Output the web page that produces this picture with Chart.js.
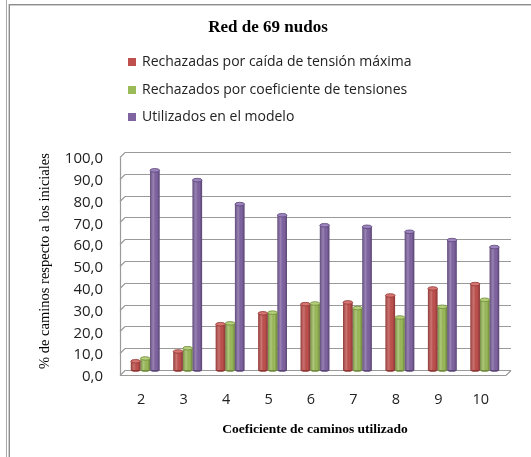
<!DOCTYPE html>
<html>
<head>
<meta charset="utf-8">
<script src="https://cdn.jsdelivr.net/npm/chart.js@4/dist/chart.umd.min.js"></script>
<style>
  html, body { margin: 0; padding: 0; background: #fff; }
  #wrap { position: relative; width: 531px; height: 457px; overflow: hidden; }
  #c { position: absolute; left: 0; top: 0; }
  .frameV1 { position: absolute; left: 6px; top: 0; width: 1px; height: 457px; background: #a8a8a8; }
  .frameV2 { position: absolute; left: 8px; top: 4px; width: 1px; height: 453px; background: #cfcfcf; }
  .frameV3 { position: absolute; left: 9px; top: 4px; width: 1px; height: 453px; background: #8c8c8c; }
  .frameH1 { position: absolute; left: 9px; top: 4px; width: 522px; height: 1px; background: #8c8c8c; }
  .frameH2 { position: absolute; left: 10px; top: 5px; width: 521px; height: 1px; background: #cfcfcf; }
  #title { position: absolute; left: 168px; width: 200px; top: 17px; text-align: center;
           font-family: "Liberation Serif", serif; font-weight: bold; font-size: 17px; color: #000; line-height: 20px; }
  #legend { position: absolute; left: 128px; top: 50px; font-family: "Open Sans", sans-serif; font-size: 14px; color: #222; }
  .li { position: relative; height: 27.5px; line-height: 22px; white-space: nowrap; }
  .sw { display: inline-block; width: 8px; height: 8px; margin-right: 6px; vertical-align: 0px; }
</style>
</head>
<body>
<div id="wrap">
  <canvas id="c" width="531" height="457"></canvas>
  <div class="frameV1"></div><div class="frameV2"></div><div class="frameV3"></div>
  <div class="frameH1"></div><div class="frameH2"></div>
  <div id="title"></div>
  <div id="legend"></div>
</div>
<script>
// ---- data ----
const categories = ['2', '3', '4', '5', '6', '7', '8', '9', '10'];
const seriesNames = [
  'Rechazadas por caída de tensión máxima',
  'Rechazados por coeficiente de tensiones',
  'Utilizados en el modelo'
];
const rechazadasCaida = [4.0, 8.5, 21.0, 26.0, 30.2, 31.0, 34.2, 37.4, 39.4];
const rechazadosCoef  = [5.3, 10.0, 21.4, 26.3, 30.5, 28.4, 24.1, 29.0, 32.2];
const utilizados      = [91.6, 87.1, 76.1, 71.0, 66.4, 65.7, 63.4, 59.6, 56.4];
const yTickValues = [0, 10, 20, 30, 40, 50, 60, 70, 80, 90, 100];
const chartTitle = 'Red de 69 nudos';
const xTitle = 'Coeficiente de caminos utilizado';
const yTitle = '% de caminos respecto a los iniciales';

const colors = ['#C0504D', '#9BBB59', '#8064A2'];
const capColors = ['#D67572', '#B5D07A', '#9C84BE'];
const edgeColors = ['#8E3532', '#6F8A3A', '#5B4577'];

document.getElementById('title').textContent = chartTitle;

// HTML legend built from the series names
const lg = document.getElementById('legend');
seriesNames.forEach((n, i) => {
  const d = document.createElement('div'); d.className = 'li';
  const s = document.createElement('span'); s.className = 'sw'; s.style.background = colors[i];
  d.appendChild(s); d.appendChild(document.createTextNode(n));
  lg.appendChild(d);
});

// 3D-like wall, floor and gridlines drawn from the y scale
const wallPlugin = {
  id: 'wall',
  beforeDatasetsDraw(chart) {
    const {ctx, chartArea: a, scales: {y}} = chart;
    const dx = 5, dy = 5;
    ctx.save();
    ctx.strokeStyle = '#9a9a9a';
    ctx.lineWidth = 1.2;
    y.ticks.forEach(t => {
      const py = Math.round(y.getPixelForValue(t.value)) + 0.5;
      ctx.beginPath();
      ctx.moveTo(a.left - 4, py + dy);
      ctx.lineTo(a.left + 1, py);
      ctx.lineTo(a.right + dx, py);
      ctx.stroke();
    });
    const y0 = Math.round(y.getPixelForValue(0)) + 0.5;
    const yTop = Math.round(y.getPixelForValue(100)) + 0.5;
    ctx.beginPath();
    ctx.moveTo(a.left - 4 + 0.5, yTop + dy);
    ctx.lineTo(a.left - 4 + 0.5, y0 + dy);
    ctx.lineTo(a.right, y0 + dy);
    ctx.lineTo(a.right + dx, y0);
    ctx.stroke();
    ctx.restore();
  },
  afterDatasetsDraw(chart) {
    const {ctx} = chart;
    chart.data.datasets.forEach((ds, di) => {
      const meta = chart.getDatasetMeta(di);
      meta.data.forEach(bar => {
        const {x, y, base, width} = bar.getProps(['x', 'y', 'base', 'width'], true);
        const l = x - width / 2, r = x + width / 2;
        ctx.save();
        const g = ctx.createLinearGradient(l, 0, r, 0);
        g.addColorStop(0, 'rgba(0,0,0,0.25)');
        g.addColorStop(0.35, 'rgba(255,255,255,0.2)');
        g.addColorStop(0.7, 'rgba(0,0,0,0.0)');
        g.addColorStop(1, 'rgba(0,0,0,0.3)');
        ctx.fillStyle = g;
        ctx.fillRect(l, y, width, base - y);
        ctx.beginPath();
        ctx.ellipse(x, base, width / 2, 1.8, 0, 0, Math.PI);
        ctx.fillStyle = edgeColors[di];
        ctx.fill();
        ctx.beginPath();
        ctx.ellipse(x, y, width / 2, 1.8, 0, 0, Math.PI * 2);
        ctx.fillStyle = capColors[di];
        ctx.fill();
        ctx.strokeStyle = edgeColors[di];
        ctx.lineWidth = 0.8;
        ctx.stroke();
        ctx.restore();
      });
    });
  }
};

new Chart(document.getElementById('c'), {
  type: 'bar',
  data: {
    labels: categories,
    datasets: [
      { label: seriesNames[0], data: rechazadasCaida, backgroundColor: colors[0] },
      { label: seriesNames[1], data: rechazadosCoef,  backgroundColor: colors[1] },
      { label: seriesNames[2], data: utilizados,      backgroundColor: colors[2] }
    ]
  },
  options: {
    responsive: false,
    animation: false,
    devicePixelRatio: 1,
    layout: { padding: { top: 152, right: 25, bottom: 0, left: 0 } },
    datasets: { bar: { categoryPercentage: 0.68, barPercentage: 1.0, borderWidth: 0 } },
    plugins: {
      legend: { display: false },
      tooltip: { enabled: false },
      title: { display: false }
    },
    scales: {
      x: {
        grid: { display: false },
        border: { display: false },
        ticks: {
          color: '#222',
          font: { family: '"Open Sans", sans-serif', size: 14.5 },
          padding: 13,
          labelOffset: -4
        },
        title: {
          display: true,
          text: xTitle,
          color: '#000',
          font: { family: '"Liberation Serif", serif', size: 13.5, weight: 'bold' },
          padding: { top: 0, bottom: 19 }
        },
        afterFit(s) { s.height = 87; }
      },
      y: {
        min: 0,
        max: 100,
        afterBuildTicks(s) { s.ticks = yTickValues.map(v => ({ value: v })); },
        grid: { display: false },
        border: { display: false },
        ticks: {
          color: '#222',
          font: { family: '"Open Sans", sans-serif', size: 15 },
          padding: 13,
          labelOffset: 7,
          callback: v => v.toFixed(1).replace('.', ',')
        },
        title: {
          display: true,
          text: yTitle,
          color: '#000',
          font: { family: '"Liberation Serif", serif', size: 14.5 },
          padding: { top: 36, bottom: 0 }
        },
        afterFit(s) { s.width = 124; }
      }
    }
  },
  plugins: [wallPlugin]
});
</script>
</body>
</html>
